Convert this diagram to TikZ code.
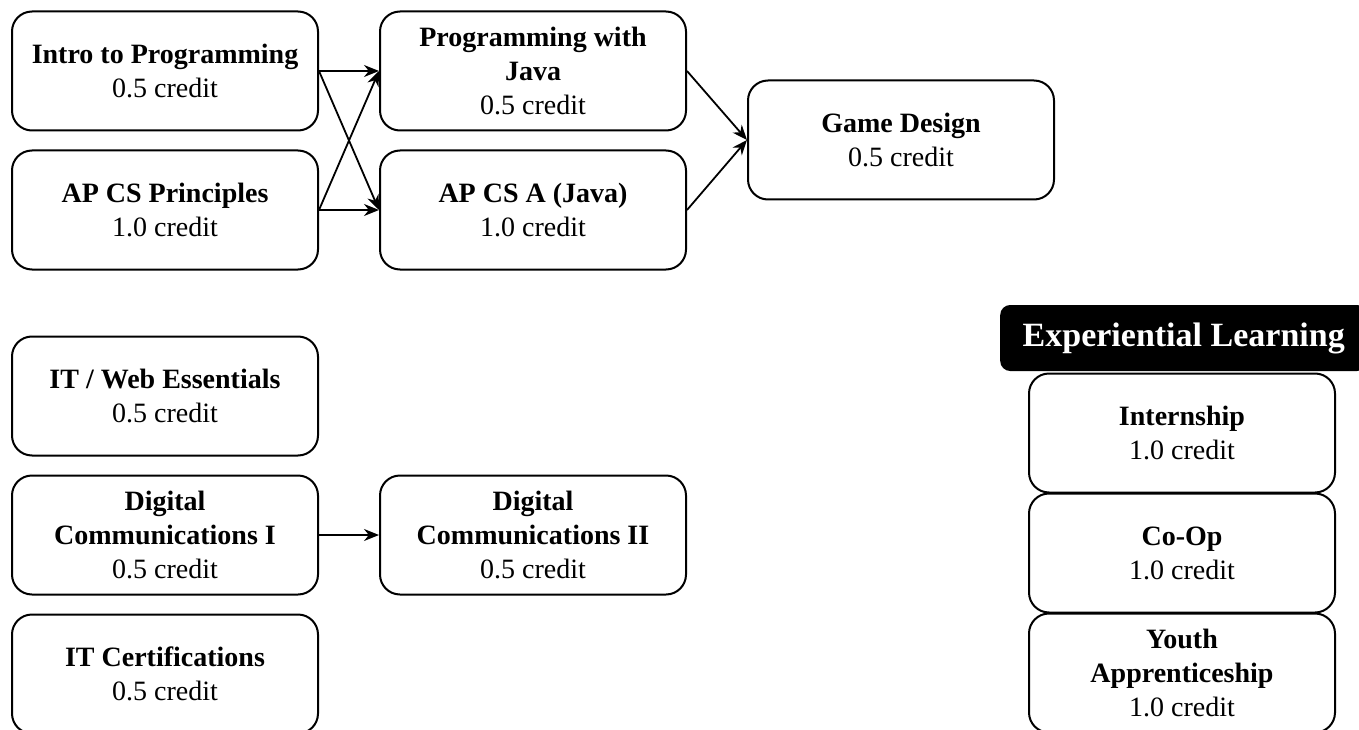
\documentclass[tikz,border=0pt]{standalone}
\usepackage{fontspec}
\setmainfont{Liberation Serif}
\usetikzlibrary{arrows.meta}

\begin{document}
\begin{tikzpicture}[x=1pt,y=-1pt,
  box/.style={draw,rectangle,rounded corners=20pt,line width=2pt,
    minimum width=306pt,minimum height=119pt,align=center,
    font=\fontsize{28}{34}\selectfont},
  header/.style={fill=black,text=white,rectangle,rounded corners=10pt,
    minimum width=367pt,minimum height=66pt,anchor=west,
    font=\fontsize{34}{40}\selectfont\bfseries},
  link/.style={line width=1.8pt,-{Stealth[length=15pt,width=12pt]}}]
\clip (0,0) rectangle (1359,730);
% computer science path
\node[box] (intro) at (165,71)  {\textbf{Intro to Programming}\\0.5 credit};
\node[box] (apcsp) at (165,210) {\textbf{AP CS Principles}\\1.0 credit};
\node[box] (java)  at (533,71)  {\textbf{Programming with}\\\textbf{Java}\\0.5 credit};
\node[box] (apcsa) at (533,210) {\textbf{AP CS A (Java)}\\1.0 credit};
\node[box] (game)  at (901,140) {\textbf{Game Design}\\0.5 credit};
% IT and communications
\node[box] (web)   at (165,396) {\textbf{IT / Web Essentials}\\0.5 credit};
\node[box] (digi)  at (165,535) {\textbf{Digital}\\\textbf{Communications I}\\0.5 credit};
\node[box] (digii) at (533,535) {\textbf{Digital}\\\textbf{Communications II}\\0.5 credit};
\node[box] (cert)  at (165,674) {\textbf{IT Certifications}\\0.5 credit};
% experiential learning
\node[header] (exp) at (1000,338) {Experiential Learning};
\node[box] (intern) at (1182,433) {\textbf{Internship}\\1.0 credit};
\node[box] (coop)   at (1182,553) {\textbf{Co-Op}\\1.0 credit};
\node[box] (youth)  at (1182,673) {\textbf{Youth}\\\textbf{Apprenticeship}\\1.0 credit};

\draw[link] (intro.east) -- (java.west);
\draw[link] (intro.east) -- (apcsa.west);
\draw[link] (apcsp.east) -- (java.west);
\draw[link] (apcsp.east) -- (apcsa.west);
\draw[link] (java.east) -- (game.west);
\draw[link] (apcsa.east) -- (game.west);
\draw[link] (digi.east) -- (digii.west);
\end{tikzpicture}
\end{document}
